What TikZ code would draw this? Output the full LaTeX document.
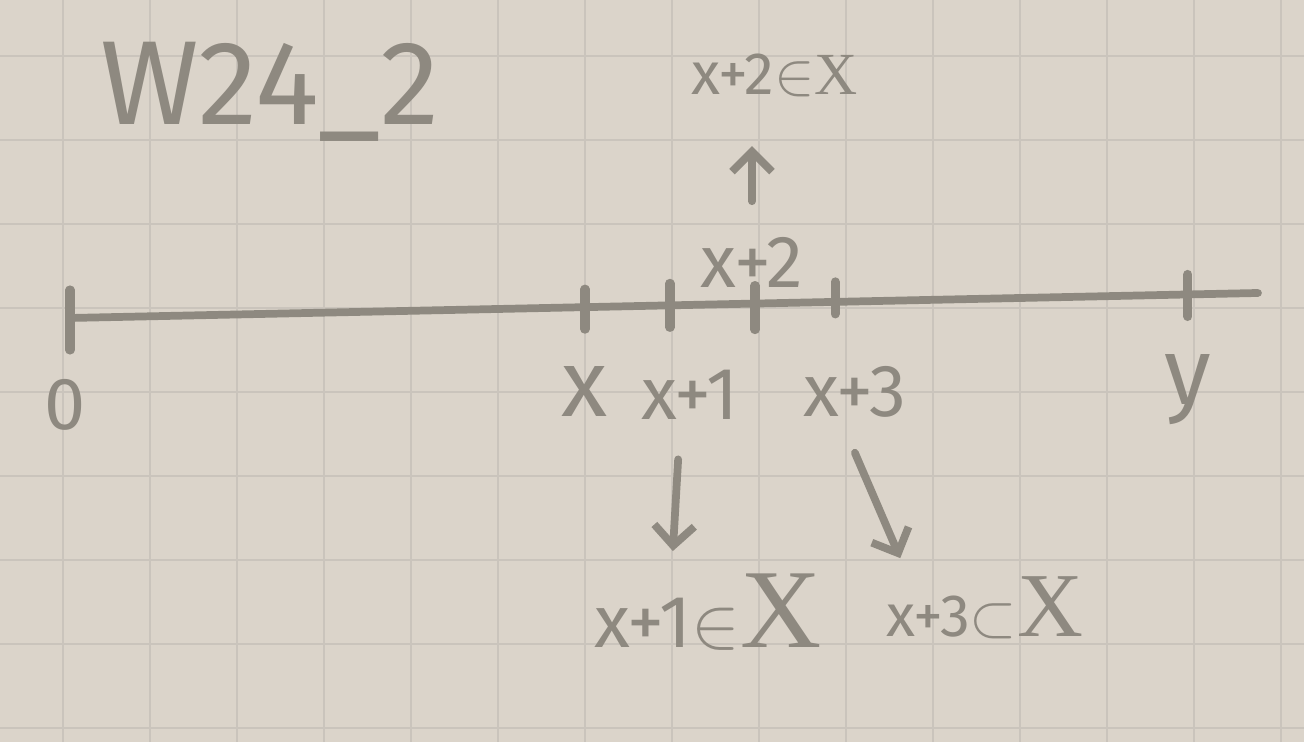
\documentclass[tikz,border=0pt]{standalone}
\usepackage{fontspec}
\setmainfont{Fira Sans}
\newfontfamily\setfont{Liberation Serif}
\usepackage{xcolor}
\usepackage{tikz}
\usetikzlibrary{arrows.meta, positioning, calc}
\definecolor{paper}{RGB}{219,212,202}
\definecolor{gridline}{RGB}{202,196,188}
\definecolor{pencil}{RGB}{142,137,128}
\tikzset{
    pen/.style={draw=pencil, line width=2.2pt, line cap=round, line join=round},
    tickmark/.style={pen, line width=2.6pt},
    label/.style={text=pencil, font=\fontsize{21}{24}\selectfont, inner sep=2pt},
    setlabel/.style={text=pencil, font=\fontsize{17}{20}\selectfont, inner sep=2pt},
    arr/.style={pen, -{Straight Barb[length=2mm, width=4mm]}},
}
\begin{document}
\begin{tikzpicture}

% === PAPER ===
\useasboundingbox (0,0) rectangle (13.04,7.42);
\fill[paper] (0,0) rectangle (13.04,7.42);
\foreach \gx in {0,...,14}
    \draw[gridline, line width=0.6pt] (0.63+0.87*\gx, 0) -- (0.63+0.87*\gx, 7.42);
\foreach \gy in {0,...,8}
    \draw[gridline, line width=0.6pt] (0, 6.86-0.84*\gy) -- (13.04, 6.86-0.84*\gy);

% === TITLE ===
\node[text=pencil, font=\fontsize{34}{40}\selectfont] (title) at (2.70, 6.50) {W24\_2};

% === NUMBER LINE ===
\coordinate (lstart) at (0.70, 4.24);
\coordinate (lend) at (12.58, 4.49);
\draw[pen] (lstart) -- (lend);
\path (lstart) -- (lend)
    coordinate[pos=0.4335] (tx)
    coordinate[pos=0.505] (txone)
    coordinate[pos=0.5766] (txtwo)
    coordinate[pos=0.644] (txthree)
    coordinate[pos=0.941] (ty);
\draw[tickmark] ($(lstart)+(0,0.28)$) -- ($(lstart)+(0,-0.32)$);
\draw[tickmark] ($(tx)+(0,0.18)$) -- ($(tx)+(0,-0.22)$);
\draw[tickmark] ($(txone)+(0,0.22)$) -- ($(txone)+(0,-0.22)$);
\draw[tickmark] ($(txtwo)+(0,0.18)$) -- ($(txtwo)+(0,-0.26)$);
\draw[tickmark] ($(txthree)+(0,0.20)$) -- ($(txthree)+(0,-0.12)$);
\draw[tickmark] ($(ty)+(0,0.20)$) -- ($(ty)+(0,-0.22)$);

% === POINT LABELS ===
\node[label] (zero) at (0.65, 3.37) {0};
\node[label, font=\fontsize{27}{30}\selectfont] (xpt) at (5.85, 3.50) {x};
\node[label] (xone) at (6.90, 3.47) {x+1};
\node[label] (xthree) at (8.55, 3.50) {x+3};
\node[label, font=\fontsize{27}{30}\selectfont] (ypt) at (11.88, 3.52) {y};
\node[label] (xtwo) at (7.52, 4.80) {x+2};

% === MEMBERSHIP ===
\node[setlabel] (intwo) at (7.75, 6.67) {x+2$\in${\setfont X}};
\node[label] (inone) at (7.08, 1.30) {x+1$\in${\setfont\fontsize{32}{34}\selectfont X}};
\node[setlabel] (inthree) at (9.85, 1.34) {x+3$\subset${\setfont\fontsize{26}{28}\selectfont X}};

\draw[arr, shorten <=0.28cm, shorten >=0.42cm] (xtwo.north) -- (xtwo.north |- intwo.south);
\draw[arr, shorten <=0.32cm, shorten >=0.15cm] ([xshift=-0.10cm]xone.south) -- ([xshift=-0.36cm]inone.north);
\draw[arr, shorten <=0.30cm, shorten >=0.12cm] ([xshift=-0.12cm]xthree.south) -- ([xshift=-0.80cm]inthree.north);

\end{tikzpicture}
\end{document}
